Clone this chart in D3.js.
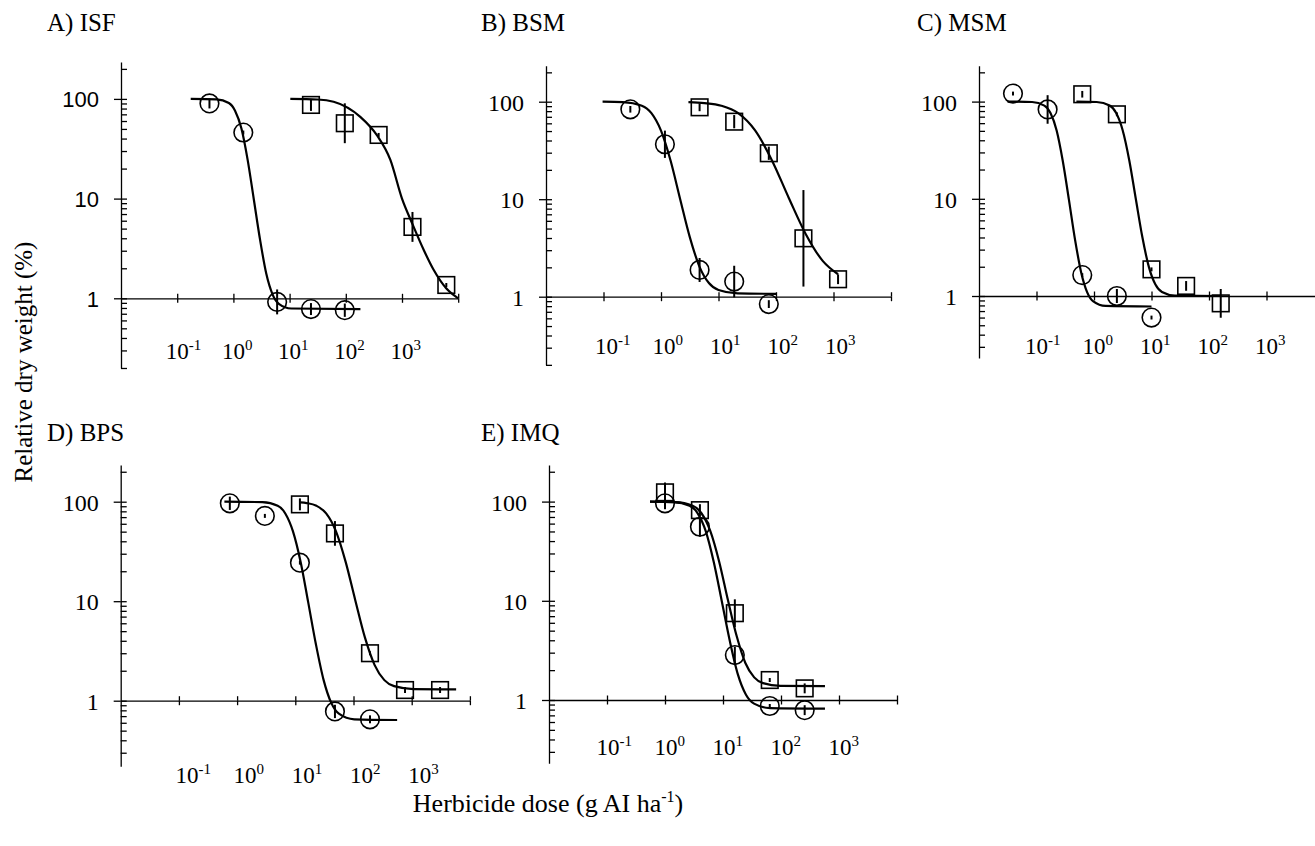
<!DOCTYPE html>
<html>
<head>
<meta charset="utf-8">
<script src="https://cdn.jsdelivr.net/npm/d3@7"></script>
<style>
  body { margin: 0; background: #fff; }
  svg { display: block; }
</style>
</head>
<body>
<div id="chart"></div>
<script>
    // panel titles and axis labels
    var panelTitles = ["A) ISF", "B) BSM", "C) MSM", "D) BPS", "E) IMQ"];
    var yTickLabels = [1, 10, 100];
    var xTickDoses = [0.1, 1, 10, 100, 1000, 10000];
    var xTickExps = [-1, 0, 1, 2, 3];

    // observed points: [dose, relative dry weight, error bar half width in log10 units]
    // fitted curves: [dose, relative dry weight]
    var isfCircles = [[0.375, 90, 0.05], [1.5, 46, 0.02], [6, 0.92, 0.125], [24, 0.78, 0.06], [96, 0.76, 0.067]];
    var isfCircleFit = [[0.174, 100], [0.50, 99.0], [0.83, 91.0], [1.07, 76.2], [1.39, 50.4], [1.79, 24.6], [2.31, 9.8],
                        [2.99, 3.83], [3.85, 1.76], [4.99, 1.09], [6.44, 0.88], [10.7, 0.79], [182, 0.78]];
    var isfSquares = [[24, 87, 0.06], [96, 57, 0.2], [384, 43.5, 0.02], [1536, 5.2, 0.15], [6144, 1.36, 0.02]];
    var isfSquareFit = [[10.3, 100], [31.6, 98.6], [60.7, 93.7], [181, 66], [360, 43], [621, 24.4], [1000, 10],
                        [1514, 5.65], [2438, 3.05], [3673, 1.92], [6109, 1.26], [10000, 1.0]];

    var bsmCircles = [[0.293, 83.6, 0.034], [1.17, 36.6, 0.14], [4.69, 1.88, 0.123], [18.75, 1.43, 0.162], [75, 0.84, 0.04]];
    var bsmCircleFit = [[0.0964, 100], [0.215, 99.0], [0.464, 91.0], [0.681, 76.3], [1, 50.5], [1.47, 24.8], [2.15, 10.07],
                        [3.16, 4.11], [4.64, 2.05], [6.81, 1.38], [10, 1.17], [21.5, 1.08], [100, 1.07]];
    var bsmSquares = [[4.69, 87.6, 0.04], [18.75, 62.4, 0.068], [75, 29.6, 0.068], [300, 3.97, 0.495], [1200, 1.51, 0.05]];
    var bsmSquareFit = [[3.0, 99.0], [5.68, 96.9], [11.2, 91.0], [22.0, 76.3], [43.3, 50.7], [85.1, 25.0], [167, 10.3],
                        [330, 4.38], [649, 2.33], [1200, 1.7]];

    var msmCircles = [[0.039, 121, 0.02], [0.156, 83, 0.147], [0.625, 1.64, 0.02], [2.5, 1.0, 0.072], [10, 0.6, 0.02]];
    var msmCircleFit = [[0.0313, 100], [0.0839, 99.0], [0.137, 91.0], [0.175, 76.2], [0.224, 50.4], [0.286, 24.6], [0.366, 9.8],
                        [0.467, 3.83], [0.597, 1.76], [0.762, 1.09], [0.973, 0.88], [1.59, 0.79], [10, 0.78]];
    var msmSquares = [[0.625, 119, 0.034], [2.5, 74, 0.02], [10, 1.88, 0.02], [40, 1.27, 0.05], [160, 0.84, 0.148]];
    var msmSquareFit = [[0.494, 100], [1.11, 99.0], [1.87, 91.0], [2.43, 76.2], [3.16, 50.5], [4.11, 24.8], [5.33, 10.0],
                        [6.93, 4.04], [9.02, 1.98], [11.7, 1.31], [15.2, 1.10], [25.6, 1.01], [160, 1.0]];

    var bpsCircles = [[0.75, 96.4, 0.067], [3, 72, 0.02], [12, 24.4, 0.02], [48, 0.78, 0.067], [192, 0.65, 0.04]];
    var bpsCircleFit = [[0.605, 100], [2.72, 99.0], [4.98, 91.0], [6.73, 76.2], [9.12, 50.3], [12.4, 24.5], [16.7, 9.67],
                        [22.6, 3.69], [30.6, 1.62], [41.5, 0.95], [56.1, 0.74], [103, 0.65], [562, 0.64]];
    var bpsSquares = [[12, 94, 0.06], [48, 48, 0.124], [192, 3.0, 0.02], [768, 1.28, 0.03], [3072, 1.28, 0.03]];
    var bpsSquareFit = [[12.2, 98.5], [15.7, 96.9], [23.1, 91.0], [33.9, 76.3], [49.8, 50.65], [73.1, 25.0], [107, 10.3],
                        [157, 4.33], [231, 2.28], [339, 1.61], [498, 1.40], [1070, 1.31], [5800, 1.30]];

    var imqCircles = [[1, 96, 0.06], [4, 55.8, 0.1], [16, 2.84, 0.084], [64, 0.87, 0.02], [256, 0.79, 0.05]];
    var imqCircleFit = [[0.551, 100], [1.40, 99.0], [2.65, 91.0], [3.66, 76.2], [5.04, 50.4], [6.93, 24.6], [9.55, 9.84],
                        [13.2, 3.86], [18.1, 1.80], [24.9, 1.13], [34.3, 0.92], [65.0, 0.83], [573, 0.82]];
    var imqSquares = [[1, 124, 0.1], [4, 82, 0.06], [16, 7.5, 0.14], [64, 1.59, 0.02], [256, 1.31, 0.05]];
    var imqSquareFit = [[0.551, 100], [1.49, 99.0], [3.00, 91.0], [4.25, 76.3], [6.03, 50.7], [8.55, 25.1], [12.1, 10.3],
                        [17.2, 4.41], [24.3, 2.36], [34.5, 1.69], [48.9, 1.48], [98.2, 1.39], [573, 1.38]];

    // where each panel sits on the page (pixels)
    var w = 1315,
        h = 846,
        yMax = 234,
        serif = "'Liberation Serif', 'Times New Roman', serif",
        sans = "'Liberation Sans', Arial, sans-serif";

    var panels = [
        {title: panelTitles[0], circles: isfCircles, circleFit: isfCircleFit, squares: isfSquares, squareFit: isfSquareFit,
         left: 121, y1: 298.3, ydec: 99.7, xdec: 56.2, yMin: 0.2, titleX: 47, titleY: 31, labDy: 61, labDx: 0, sansTicks: true},
        {title: panelTitles[1], circles: bsmCircles, circleFit: bsmCircleFit, squares: bsmSquares, squareFit: bsmSquareFit,
         left: 546, y1: 296.7, ydec: 97.5, xdec: 57.5, yMin: 0.2, titleX: 481, titleY: 31, labDy: 57, labDx: 3},
        {title: panelTitles[2], circles: msmCircles, circleFit: msmCircleFit, squares: msmSquares, squareFit: msmSquareFit,
         left: 979, y1: 296, ydec: 97.2, xdec: 57.5, yMin: 0.23, titleX: 917, titleY: 31, labDy: 58, labDx: 0},
        {title: panelTitles[3], circles: bpsCircles, circleFit: bpsCircleFit, squares: bpsSquares, squareFit: bpsSquareFit,
         left: 120.7, y1: 700.7, ydec: 99.5, xdec: 58.2, yMin: 0.22, titleX: 47, titleY: 441, labDy: 82.5, labDx: 8},
        {title: panelTitles[4], circles: imqCircles, circleFit: imqCircleFit, squares: imqSquares, squareFit: imqSquareFit,
         left: 549, y1: 700, ydec: 99.2, xdec: 58, yMin: 0.23, titleX: 481, titleY: 441, labDy: 55, labDx: 1}
    ];

    var svg = d3.select("#chart")
        .append("svg")
        .attr("width", w)
        .attr("height", h);

    svg.append("rect").attr("width", w).attr("height", h).attr("fill", "#fff");

    // 1..9 times each decade, kept inside the axis range
    function logTicks(lo, hi) {
        var out = [];
        for (var e = -1; e <= 2; e++) {
            for (var k = 1; k <= 9; k++) {
                var v = k * Math.pow(10, e);
                if (v >= lo * 0.999 && v <= hi) out.push(v);
            }
        }
        return out;
    }

    function styleAxis(sel) {
        sel.selectAll("path, line").attr("stroke", "#000").attr("stroke-width", 1.3);
    }

    panels.forEach(function(p) {
        var g = svg.append("g");

        var x = d3.scaleLog()
            .domain([0.01, 10000])
            .range([p.left, p.left + 6 * p.xdec]);

        var y = d3.scaleLog()
            .domain([p.yMin, yMax])
            .range([p.y1 - Math.log10(p.yMin) * p.ydec, p.y1 - Math.log10(yMax) * p.ydec]);

        // y axis: small ticks on the inside, labelled ones cross the line
        g.append("g")
            .attr("transform", "translate(" + p.left + ",0)")
            .call(d3.axisRight(y).tickValues(logTicks(p.yMin, yMax)).tickSize(6).tickSizeOuter(0).tickFormat(""))
            .call(styleAxis);

        var yl = g.append("g")
            .attr("transform", "translate(" + p.left + ",0)")
            .call(d3.axisLeft(y).tickValues(yTickLabels).tickSize(7).tickPadding(15).tickFormat(d3.format("d")))
            .call(styleAxis);
        yl.select(".domain").remove();
        yl.selectAll("text")
            .attr("fill", "#000")
            .attr("dy", "0.35em")
            .style("font-family", p.sansTicks ? sans : serif)
            .style("font-size", p.sansTicks ? "22px" : "24px");

        // x axis runs along y = 1, ticks cross it
        g.append("g")
            .attr("transform", "translate(0," + y(1) + ")")
            .call(d3.axisBottom(x).tickValues(xTickDoses).tickSize(4.5).tickSizeOuter(0).tickFormat(""))
            .call(styleAxis);
        g.append("g")
            .attr("transform", "translate(0," + y(1) + ")")
            .call(d3.axisTop(x).tickValues(xTickDoses).tickSize(4.5).tickSizeOuter(0).tickFormat(""))
            .call(styleAxis)
            .select(".domain").remove();

        // powers of ten under the axis
        var lab = g.selectAll("text.xlab")
            .data(xTickExps)
            .enter().append("text")
            .attr("class", "xlab")
            .attr("x", function(d) { return x(Math.pow(10, d)) + p.labDx - 11.5; })
            .attr("y", y(1) + p.labDy)
            .style("font-family", serif)
            .style("font-size", "23px");
        lab.append("tspan").text("10");
        lab.append("tspan")
            .attr("dy", -9)
            .style("font-size", "15px")
            .text(function(d) { return d; });

        var line = d3.line()
            .x(function(d) { return x(d[0]); })
            .y(function(d) { return y(d[1]); })
            .curve(d3.curveMonotoneX);

        [p.circleFit, p.squareFit].forEach(function(fit) {
            g.append("path")
                .attr("d", line(fit))
                .attr("fill", "none")
                .attr("stroke", "#000")
                .attr("stroke-width", 2.2);
        });

        // error bars, symmetric on the log scale
        p.circles.concat(p.squares).forEach(function(d) {
            var f = Math.pow(10, d[2]);
            g.append("line")
                .attr("x1", x(d[0])).attr("x2", x(d[0]))
                .attr("y1", y(d[1] / f)).attr("y2", y(d[1] * f))
                .attr("stroke", "#000")
                .attr("stroke-width", 2);
        });

        g.selectAll("circle.pt")
            .data(p.circles)
            .enter().append("circle")
            .attr("class", "pt")
            .attr("cx", function(d) { return x(d[0]); })
            .attr("cy", function(d) { return y(d[1]); })
            .attr("r", 9.3)
            .attr("fill", "none")
            .attr("stroke", "#000")
            .attr("stroke-width", 1.6);

        g.selectAll("rect.pt")
            .data(p.squares)
            .enter().append("rect")
            .attr("class", "pt")
            .attr("x", function(d) { return x(d[0]) - 8.3; })
            .attr("y", function(d) { return y(d[1]) - 8.3; })
            .attr("width", 16.6)
            .attr("height", 16.6)
            .attr("fill", "none")
            .attr("stroke", "#000")
            .attr("stroke-width", 1.6);

        g.append("text")
            .attr("x", p.titleX)
            .attr("y", p.titleY)
            .style("font-family", serif)
            .style("font-size", "25px")
            .text(p.title);
    });

    // shared axis titles
    svg.append("text")
        .attr("transform", "translate(32,362) rotate(-90)")
        .attr("text-anchor", "middle")
        .style("font-family", serif)
        .style("font-size", "25px")
        .text("Relative dry weight (%)");

    var xt = svg.append("text")
        .attr("x", 548)
        .attr("y", 812)
        .attr("text-anchor", "middle")
        .style("font-family", serif)
        .style("font-size", "26px");
    xt.append("tspan").text("Herbicide dose (g AI ha");
    xt.append("tspan").attr("dy", -10).style("font-size", "16px").text("-1");
    xt.append("tspan").attr("dy", 10).text(")");
</script>
</body>
</html>
